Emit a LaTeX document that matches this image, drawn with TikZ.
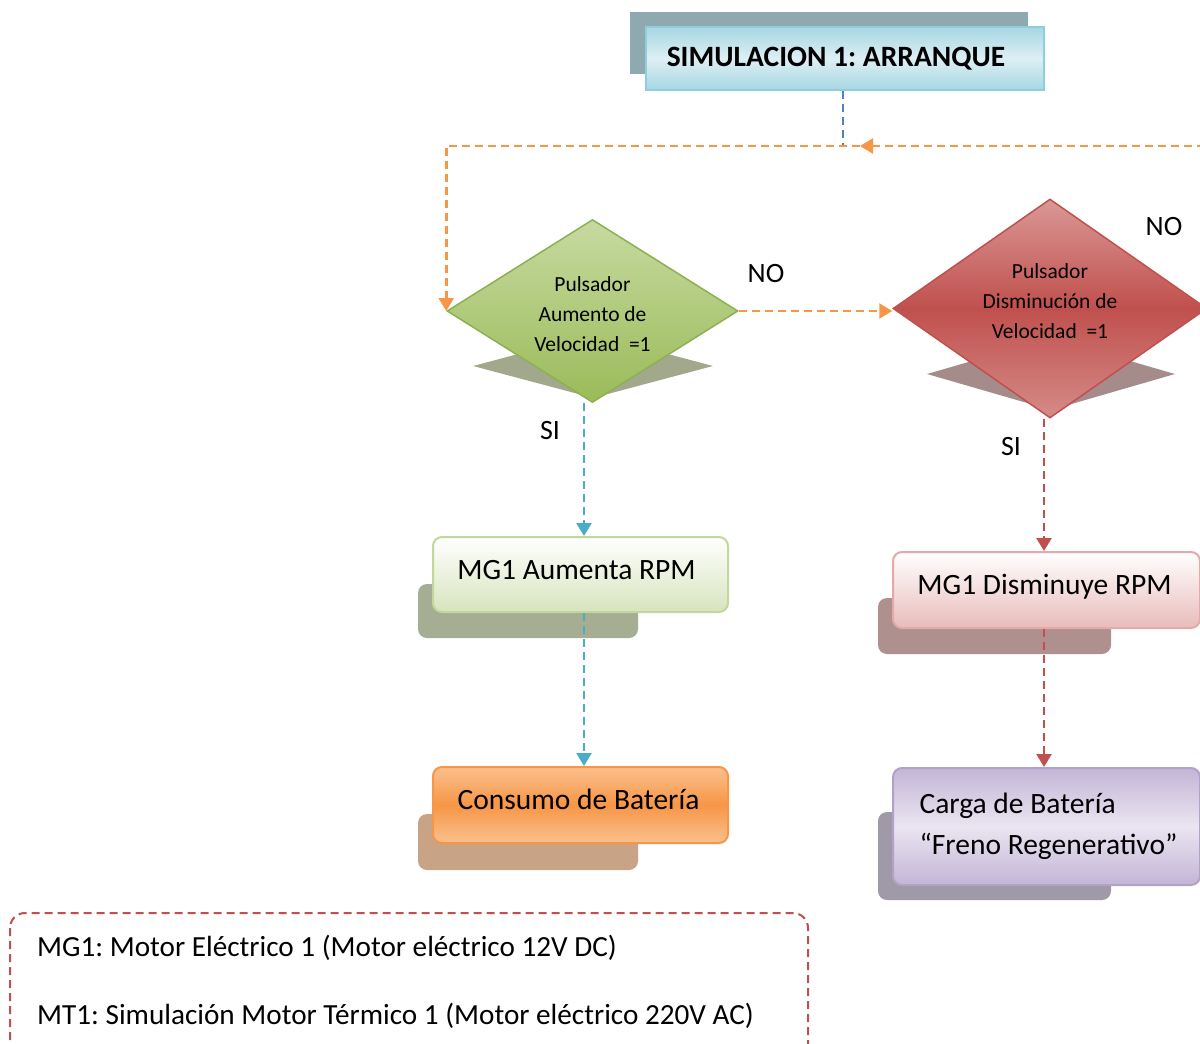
\documentclass[tikz,border=0pt]{standalone}
\usepackage{fontspec}
\setmainfont{Carlito}
\frenchspacing
\usetikzlibrary{arrows.meta,positioning,shapes.geometric}
\definecolor{titshd}{HTML}{8EA9AF}
\definecolor{titline}{HTML}{92CDDC}
\definecolor{tittop}{HTML}{A6D7E3}
\definecolor{titmid}{HTML}{DDEFF4}
\definecolor{grline}{HTML}{8DB052}
\definecolor{grtop}{HTML}{C6DAA0}
\definecolor{grbot}{HTML}{9BBB59}
\definecolor{grshd}{HTML}{A2A88C}
\definecolor{rdline}{HTML}{C0504D}
\definecolor{rdtop}{HTML}{DA9896}
\definecolor{rdbot}{HTML}{D58B88}
\definecolor{rdshd}{HTML}{A58B8A}
\definecolor{g1line}{HTML}{C3D69B}
\definecolor{g1bot}{HTML}{D7E4BD}
\definecolor{g1shd}{HTML}{A5AE92}
\definecolor{orline}{HTML}{F79646}
\definecolor{ortop}{HTML}{FAC08F}
\definecolor{orshd}{HTML}{C9A385}
\definecolor{pkline}{HTML}{E3AAA9}
\definecolor{pkbot}{HTML}{E8BCBB}
\definecolor{pkshd}{HTML}{AE908F}
\definecolor{lvline}{HTML}{B3A2C7}
\definecolor{lvtop}{HTML}{C3B5D6}
\definecolor{lvmid}{HTML}{EAE5F1}
\definecolor{lvshd}{HTML}{A099A8}
\definecolor{blline}{HTML}{4BACC6}
\definecolor{tlline}{HTML}{4F81BD}
\tikzset{
  decide/.style={diamond, draw, line width=1.5pt, inner sep=0pt},
  dtext/.style={align=center, inner sep=0pt, font=\fontsize{21.5}{30}\selectfont},
  dshadow/.style={diamond, inner sep=0pt},
  stepbox/.style={rounded corners=9pt, draw, line width=2pt, inner sep=0pt,
      minimum width=295pt, font=\fontsize{29.5}{41}\selectfont},
  oneline/.style={text height=22pt, text depth=13pt},
  bshadow/.style={rounded corners=9pt, inner sep=0pt, minimum width=220pt},
  lbl/.style={font=\fontsize{28}{30}\selectfont},
  legtext/.style={anchor=west, inner sep=0pt, font=\fontsize{29.2}{30}\selectfont},
  flow/.style={dash pattern=on 8pt off 5pt, line width=2.5pt},
  tip/.style={-{Triangle[length=13pt,width=15pt]}},
}

\begin{document}
\begin{tikzpicture}[x=1pt, y=-1pt]
  \useasboundingbox (0,0) rectangle (1200,1044);
  \clip (0,0) rectangle (1200,1044);
  % title
  \node[fill=titshd, minimum width=398pt, minimum height=62pt] (titleshd) at (829,43) {};
  \node[draw=titline, line width=2pt, top color=tittop, bottom color=tittop, middle color=titmid,
      minimum width=398pt, minimum height=63pt, font=\fontsize{29.5}{34}\selectfont\bfseries]
      (title) at (845,58.5) {SIMULACION 1: ARRANQUE\hspace*{18pt}};
  \coordinate (jn) at (843,146);
  % decisions
  \node[dshadow, fill=grshd, minimum width=240pt, minimum height=64pt] (upshd) at (593,366) {};
  \node[decide, draw=grline, top color=grtop, bottom color=grbot,
      minimum width=291pt, minimum height=183pt] (up) at (592.5,311) {};
  \node[dtext] (uptxt) at ([yshift=-3pt]up.center) {Pulsador\\Aumento de\\Velocidad~ =1};
  \node[dshadow, fill=rdshd, minimum width=248pt, minimum height=72pt] (downshd) at (1051,374) {};
  \node[decide, draw=rdline, top color=rdtop, bottom color=rdbot, middle color=rdline,
      minimum width=314pt, minimum height=219pt] (down) at (1050,308.5) {};
  \node[dtext] (downtxt) at ([yshift=7pt]down.center) {Pulsador\\Disminuci\'on de\\Velocidad~ =1};
  % actions
  \node[bshadow, fill=g1shd, minimum height=54pt] (aumshd) at (528,611) {};
  \node[stepbox, oneline, draw=g1line, top color=white, bottom color=g1bot, minimum height=75pt]
      (aum) at (580.5,574.5) {MG1 Aumenta RPM\hspace*{8pt}};
  \node[bshadow, fill=orshd, minimum height=56pt] (consshd) at (528,842) {};
  \node[stepbox, oneline, draw=orline, top color=ortop, bottom color=ortop, middle color=orline,
      minimum height=76pt] (cons) at (580.5,805) {Consumo de Bater\'ia\hspace*{4pt}};
  \node[bshadow, fill=pkshd, minimum width=233pt, minimum height=56pt] (dismshd) at (994.5,626) {};
  \node[stepbox, oneline, draw=pkline, top color=white, bottom color=pkbot, minimum width=307pt,
      minimum height=76pt] (dism) at (1046.5,590) {MG1 Disminuye RPM\hspace*{4pt}};
  \node[bshadow, fill=lvshd, minimum width=233pt, minimum height=88pt] (cargashd) at (994.5,856) {};
  \node[stepbox, draw=lvline, top color=lvtop, bottom color=lvtop, middle color=lvmid,
      minimum width=307pt, minimum height=117pt, align=left]
      (carga) at (1046.5,826.5) {Carga de Bater\'ia\\``Freno Regenerativo''\hspace*{-4pt}};
  % connectors
  \draw[flow, tlline] (jn |- title.south) -- (jn);
  \draw[flow, orline, tip] (down.east) -- ++(15,0) |- ([xshift=17pt]jn);
  \draw[flow, orline, tip] ([xshift=17pt]jn) -| (up.west);
  \draw[flow, orline, tip] (up.east) -- (up.east -| down.west);
  \draw[flow, blline, tip] ([xshift=3.5pt]aum.north |- up.south) -- ([xshift=3.5pt]aum.north);
  \draw[flow, blline, tip] ([xshift=3.5pt]aum.south) -- ([xshift=3.5pt]cons.north);
  \draw[flow, rdline, tip] ([xshift=-2.5pt]dism.north |- down.south) -- ([xshift=-2.5pt]dism.north);
  \draw[flow, rdline, tip] ([xshift=-2.5pt]dism.south) -- ([xshift=-2.5pt]carga.north);
  \node[lbl] (no1) at (766,274) {NO};
  \node[lbl] (no2) at (1164,227) {NO};
  \node[lbl] (si1) at (550,431) {SI};
  \node[lbl] (si2) at (1011,447) {SI};
  % legend
  \draw[rdline, line width=2pt, dash pattern=on 8pt off 5pt, rounded corners=15pt]
      (10,913) rectangle (808,1070);
  \node[legtext] (leg1) at (37,948) {MG1: Motor El\'ectrico 1 (Motor el\'ectrico 12V DC)};
  \node[legtext] (leg2) at (37,1016) {MT1: Simulaci\'on Motor T\'ermico 1 (Motor el\'ectrico 220V AC)};
\end{tikzpicture}
\end{document}
